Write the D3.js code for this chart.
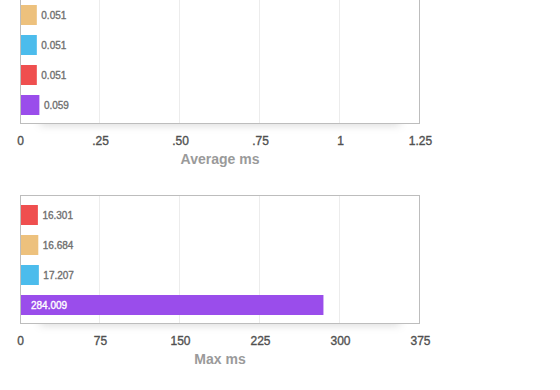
<!DOCTYPE html>
<html>
<head>
<meta charset="utf-8">
<script src="https://cdn.jsdelivr.net/npm/d3@7"></script>
<style>
  html, body { margin: 0; padding: 0; background: #fff; overflow: hidden; }
  svg { display: block; font-family: "Liberation Sans", Arial, Helvetica, sans-serif; }
</style>
</head>
<body>
<svg id="chart" width="560" height="390"></svg>
<script>
// ---- data ----
const seriesNames = ["A", "B", "C", "D"];
const avgValues = [0.051, 0.051, 0.051, 0.059];
const maxValues = [16.301, 16.684, 17.207, 284.009];
const avgOrder = ["B", "C", "A", "D"];
const maxOrder = ["A", "B", "C", "D"];
const avgTicks = [0, 0.25, 0.5, 0.75, 1, 1.25];
const avgTickLabels = ["0", ".25", ".50", ".75", "1", "1.25"];
const maxTicks = [0, 75, 150, 225, 300, 375];
const maxTickLabels = ["0", "75", "150", "225", "300", "375"];
const avgTitle = "Average ms";
const maxTitle = "Max ms";

// ---- styles ----
const color = d3.scaleOrdinal()
  .domain(seriesNames)
  .range(["#ef4f4f", "#edc17d", "#4cbcec", "#9a4deb"]);

const svg = d3.select("#chart");
const defs = svg.append("defs");
defs.append("filter").attr("id", "shadow")
  .attr("x", "-10%").attr("y", "-200%").attr("width", "120%").attr("height", "500%")
  .append("feGaussianBlur").attr("stdDeviation", 4);

const left = 20, width = 400, plotH = 129;

function drawChart(top, values, order, ticks, tickLabels, title) {
  const g = svg.append("g");
  const x = d3.scaleLinear().domain([ticks[0], ticks[ticks.length - 1]]).range([left, left + width]);
  const y = d3.scaleBand().domain(order).range([top + 5, top + 125])
    .paddingInner(1 / 3).paddingOuter(1 / 6);
  const valueOf = name => values[seriesNames.indexOf(name)];
  const inside = name => x(valueOf(name)) - x(0) > 60;

  // shadow under box
  g.append("rect")
    .attr("x", left + 20).attr("y", top + plotH - 7)
    .attr("width", width - 40).attr("height", 8)
    .attr("fill", "rgba(0,0,0,0.16)")
    .attr("filter", "url(#shadow)");
  g.append("rect")
    .attr("x", left).attr("y", top)
    .attr("width", width).attr("height", plotH)
    .attr("fill", "#fff");

  // gridlines
  g.selectAll("line.grid").data(ticks.slice(1, -1)).join("line")
    .attr("class", "grid")
    .attr("x1", d => Math.round(x(d)) - 0.5).attr("x2", d => Math.round(x(d)) - 0.5)
    .attr("y1", top).attr("y2", top + plotH)
    .attr("stroke", "#ececec").attr("stroke-width", 1);

  // bars
  g.selectAll("rect.bar").data(order).join("rect")
    .attr("class", "bar")
    .attr("x", x(0) + 0.5)
    .attr("y", d => y(d))
    .attr("width", d => x(valueOf(d)) - x(0))
    .attr("height", y.bandwidth())
    .attr("fill", d => color(d));

  // value labels
  g.selectAll("text.val").data(order).join("text")
    .attr("class", "val")
    .attr("x", d => inside(d) ? x(0) + 11 : x(valueOf(d)) + 5)
    .attr("y", d => y(d) + y.bandwidth() / 2)
    .attr("dy", "0.35em")
    .attr("font-size", 10)
    .attr("fill", d => inside(d) ? "#fff" : "#707070")
    .attr("stroke", d => inside(d) ? "#fff" : "#707070")
    .attr("stroke-width", 0.35)
    .text(d => String(valueOf(d)));

  // border
  g.append("rect")
    .attr("x", left + 0.5).attr("y", top + 0.5)
    .attr("width", width - 1).attr("height", plotH - 1)
    .attr("fill", "none").attr("stroke", "#bdbdbd").attr("stroke-width", 1);

  // axis
  const axis = d3.axisBottom(x)
    .tickValues(ticks)
    .tickFormat((d, i) => tickLabels[i])
    .tickSize(0).tickPadding(0);
  const ag = g.append("g").attr("transform", `translate(0,${top + plotH + 12})`).call(axis);
  ag.select(".domain").remove();
  ag.selectAll("text")
    .attr("font-size", 12)
    .attr("font-family", "\"Liberation Sans\", Arial, sans-serif")
    .attr("fill", "#505050")
    .attr("stroke", "#505050")
    .attr("stroke-width", 0.35);

  // title
  g.append("text")
    .attr("x", left + width / 2)
    .attr("y", top + plotH + 40)
    .attr("text-anchor", "middle")
    .attr("font-size", 14)
    .attr("font-weight", "bold")
    .attr("fill", "#9a9a9a")
    .text(title);
}

drawChart(-5, avgValues, avgOrder, avgTicks, avgTickLabels, avgTitle);
drawChart(195, maxValues, maxOrder, maxTicks, maxTickLabels, maxTitle);
</script>
</body>
</html>
